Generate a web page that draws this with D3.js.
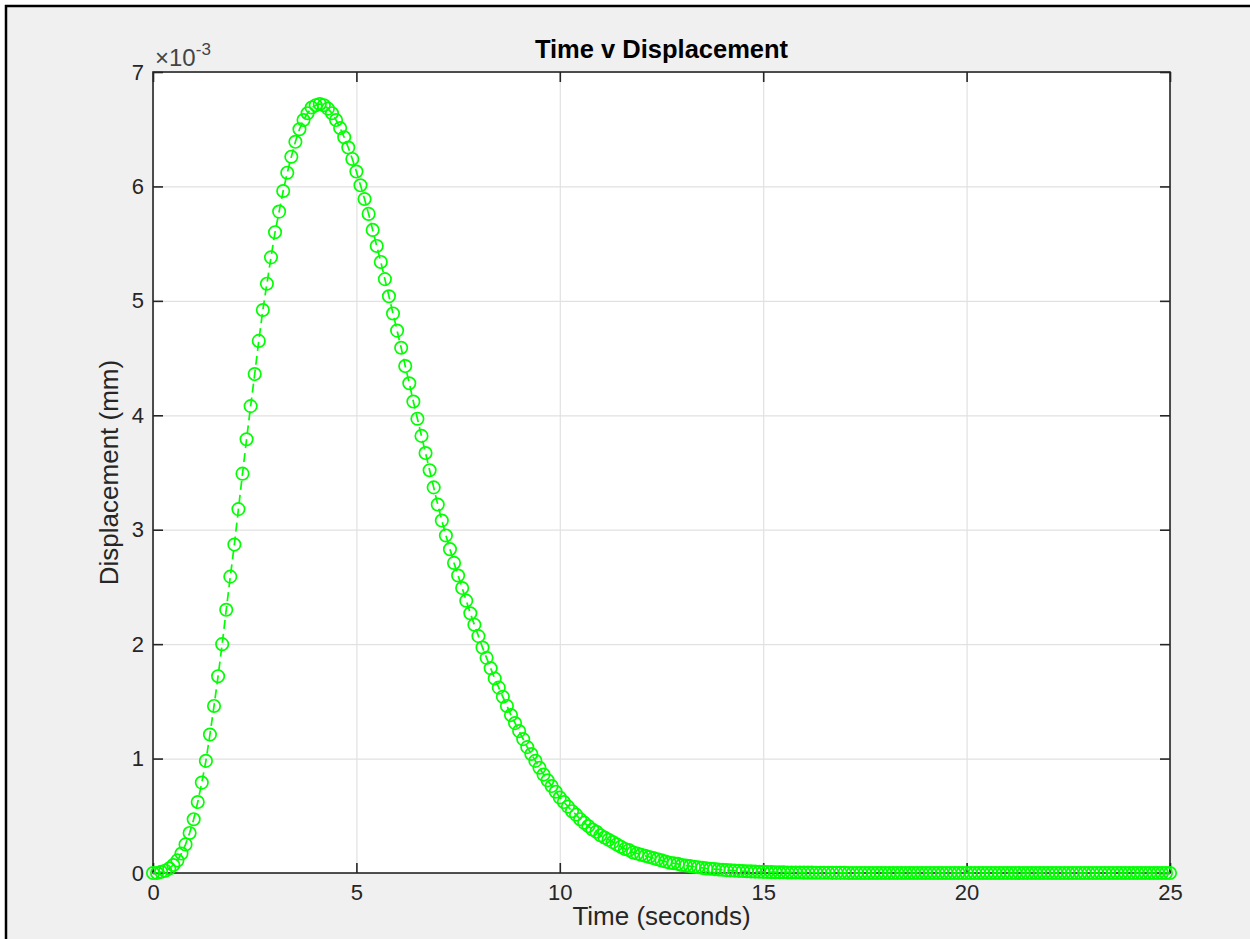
<!DOCTYPE html>
<html>
<head>
<meta charset="utf-8">
<script src="https://cdn.jsdelivr.net/npm/d3@7"></script>
<style>
  body { margin: 0; background: #ffffff; }
  svg { display: block; font-family: "Liberation Sans", Arial, Helvetica, sans-serif; }
</style>
</head>
<body>
<div id="ChartContainer"></div>
<script>
// sample times (seconds)
const TimeValues =
[
    0.0, 0.1, 0.2, 0.3, 0.4, 0.5, 0.6, 0.7, 0.8, 0.9,
    1.0, 1.1, 1.2, 1.3, 1.4, 1.5, 1.6, 1.7, 1.8, 1.9,
    2.0, 2.1, 2.2, 2.3, 2.4, 2.5, 2.6, 2.7, 2.8, 2.9,
    3.0, 3.1, 3.2, 3.3, 3.4, 3.5, 3.6, 3.7, 3.8, 3.9,
    4.0, 4.1, 4.2, 4.3, 4.4, 4.5, 4.6, 4.7, 4.8, 4.9,
    5.0, 5.1, 5.2, 5.3, 5.4, 5.5, 5.6, 5.7, 5.8, 5.9,
    6.0, 6.1, 6.2, 6.3, 6.4, 6.5, 6.6, 6.7, 6.8, 6.9,
    7.0, 7.1, 7.2, 7.3, 7.4, 7.5, 7.6, 7.7, 7.8, 7.9,
    8.0, 8.1, 8.2, 8.3, 8.4, 8.5, 8.6, 8.7, 8.8, 8.9,
    9.0, 9.1, 9.2, 9.3, 9.4, 9.5, 9.6, 9.7, 9.8, 9.9,
    10.0, 10.1, 10.2, 10.3, 10.4, 10.5, 10.6, 10.7, 10.8, 10.9,
    11.0, 11.1, 11.2, 11.3, 11.4, 11.5, 11.6, 11.7, 11.8, 11.9,
    12.0, 12.1, 12.2, 12.3, 12.4, 12.5, 12.6, 12.7, 12.8, 12.9,
    13.0, 13.1, 13.2, 13.3, 13.4, 13.5, 13.6, 13.7, 13.8, 13.9,
    14.0, 14.1, 14.2, 14.3, 14.4, 14.5, 14.6, 14.7, 14.8, 14.9,
    15.0, 15.1, 15.2, 15.3, 15.4, 15.5, 15.6, 15.7, 15.8, 15.9,
    16.0, 16.1, 16.2, 16.3, 16.4, 16.5, 16.6, 16.7, 16.8, 16.9,
    17.0, 17.1, 17.2, 17.3, 17.4, 17.5, 17.6, 17.7, 17.8, 17.9,
    18.0, 18.1, 18.2, 18.3, 18.4, 18.5, 18.6, 18.7, 18.8, 18.9,
    19.0, 19.1, 19.2, 19.3, 19.4, 19.5, 19.6, 19.7, 19.8, 19.9,
    20.0, 20.1, 20.2, 20.3, 20.4, 20.5, 20.6, 20.7, 20.8, 20.9,
    21.0, 21.1, 21.2, 21.3, 21.4, 21.5, 21.6, 21.7, 21.8, 21.9,
    22.0, 22.1, 22.2, 22.3, 22.4, 22.5, 22.6, 22.7, 22.8, 22.9,
    23.0, 23.1, 23.2, 23.3, 23.4, 23.5, 23.6, 23.7, 23.8, 23.9,
    24.0, 24.1, 24.2, 24.3, 24.4, 24.5, 24.6, 24.7, 24.8, 24.9,
    25.0
];

// displacement, in units of 1e-3 mm
const DisplacementValues =
[
    0.00, 0.00, 0.01, 0.02, 0.04, 0.07, 0.11, 0.17, 0.25, 0.35,
    0.47, 0.62, 0.79, 0.98, 1.21, 1.46, 1.72, 2.00, 2.30, 2.59,
    2.87, 3.18, 3.49, 3.79, 4.08, 4.36, 4.65, 4.92, 5.15, 5.38,
    5.60, 5.78, 5.96, 6.12, 6.26, 6.39, 6.50, 6.58, 6.64, 6.69,
    6.71, 6.72, 6.71, 6.68, 6.64, 6.58, 6.51, 6.43, 6.34, 6.24,
    6.13, 6.01, 5.89, 5.76, 5.62, 5.48, 5.34, 5.19, 5.04, 4.89,
    4.74, 4.59, 4.43, 4.28, 4.12, 3.97, 3.82, 3.67, 3.52, 3.37,
    3.22, 3.08, 2.95, 2.83, 2.71, 2.60, 2.49, 2.38, 2.27, 2.17,
    2.07, 1.97, 1.88, 1.79, 1.70, 1.62, 1.54, 1.46, 1.38, 1.31,
    1.24, 1.17, 1.10, 1.04, 0.98, 0.92, 0.86, 0.81, 0.76, 0.71,
    0.66, 0.62, 0.58, 0.54, 0.51, 0.47, 0.44, 0.41, 0.38, 0.36,
    0.33, 0.31, 0.29, 0.27, 0.25, 0.23, 0.21, 0.20, 0.18, 0.17,
    0.16, 0.15, 0.14, 0.13, 0.12, 0.11, 0.10, 0.09, 0.085, 0.08,
    0.07, 0.065, 0.06, 0.055, 0.05, 0.045, 0.04, 0.037, 0.034, 0.031,
    0.028, 0.025, 0.023, 0.021, 0.019, 0.017, 0.015, 0.014, 0.012, 0.011,
    0.010, 0.009, 0.008, 0.007, 0.006, 0.006, 0.005, 0.005, 0.004, 0.004,
    0.003, 0.003, 0.003, 0.002, 0.002, 0.002, 0.002, 0.001, 0.001, 0.001,
    0.001, 0, 0, 0, 0, 0, 0, 0, 0, 0,
    0, 0, 0, 0, 0, 0, 0, 0, 0, 0,
    0, 0, 0, 0, 0, 0, 0, 0, 0, 0,
    0, 0, 0, 0, 0, 0, 0, 0, 0, 0,
    0, 0, 0, 0, 0, 0, 0, 0, 0, 0,
    0, 0, 0, 0, 0, 0, 0, 0, 0, 0,
    0, 0, 0, 0, 0, 0, 0, 0, 0, 0,
    0, 0, 0, 0, 0, 0, 0, 0, 0, 0,
    0
];

const XTicks = [0, 5, 10, 15, 20, 25];
const YTicks = [0, 1, 2, 3, 4, 5, 6, 7];
const XDomain = [0, 25];
const YDomain = [0, 7];

const ChartTitle = 'Time v Displacement';
const XLabel = 'Time (seconds)';
const YLabel = 'Displacement (mm)';

DrawChart();

function DrawChart()
{
    const Width = 1250;
    const Height = 939;
    const Margin = { top: 72, right: 80, bottom: 66, left: 153 };
    const PlotWidth = Width - Margin.left - Margin.right;
    const PlotHeight = Height - Margin.top - Margin.bottom;
    const AxisColor = '#262626';
    const LineColor = '#00ff00';

    const Root = d3.select('#ChartContainer')
                   .append('svg')
                   .attr('width', Width)
                   .attr('height', Height);

    // figure background with the dark frame on top/left
    Root.append('rect')
        .attr('x', 6)
        .attr('y', 6)
        .attr('width', Width + 20)
        .attr('height', Height + 20)
        .attr('fill', '#f0f0f0')
        .attr('stroke', '#000000')
        .attr('stroke-width', 2.5);

    const Svg = Root.append('g')
                    .attr('transform', `translate(${Margin.left}, ${Margin.top})`);

    Svg.append('rect')
       .attr('width', PlotWidth)
       .attr('height', PlotHeight)
       .attr('fill', '#ffffff');

    const xScale = d3.scaleLinear().domain(XDomain).range([0, PlotWidth]);
    const yScale = d3.scaleLinear().domain(YDomain).range([PlotHeight, 0]);

    // grid
    const Grid = Svg.append('g').attr('class', 'grid');
    Grid.append('g')
        .attr('transform', `translate(0, ${PlotHeight})`)
        .call(d3.axisBottom(xScale).tickValues(XTicks).tickSize(-PlotHeight).tickFormat(''));
    Grid.append('g')
        .call(d3.axisLeft(yScale).tickValues(YTicks).tickSize(-PlotWidth).tickFormat(''));
    Grid.selectAll('.domain').remove();
    Grid.selectAll('line').attr('stroke', '#e1e1e1').attr('stroke-width', 1.2);

    // axes with inward ticks on all four sides
    const TickFont = '22px';
    const Bottom = Svg.append('g')
                      .attr('transform', `translate(0, ${PlotHeight})`)
                      .call(d3.axisBottom(xScale).tickValues(XTicks).tickSize(-10).tickPadding(11).tickFormat(d3.format('d')));
    const Top = Svg.append('g')
                   .call(d3.axisTop(xScale).tickValues(XTicks).tickSize(-10).tickFormat(''));
    const Left = Svg.append('g')
                    .call(d3.axisLeft(yScale).tickValues(YTicks).tickSize(-10).tickPadding(9).tickFormat(d3.format('d')));
    const Right = Svg.append('g')
                     .attr('transform', `translate(${PlotWidth}, 0)`)
                     .call(d3.axisRight(yScale).tickValues(YTicks).tickSize(-10).tickFormat(''));
    [Bottom, Top, Left, Right].forEach(Axis =>
    {
        Axis.select('.domain').remove();
        Axis.selectAll('line').attr('stroke', AxisColor).attr('stroke-width', 1.6);
        Axis.selectAll('text')
            .attr('fill', AxisColor)
            .style('font-size', TickFont)
            .style('font-family', '"Liberation Sans", Arial, sans-serif');
    });

    Svg.append('rect')
       .attr('width', PlotWidth)
       .attr('height', PlotHeight)
       .attr('fill', 'none')
       .attr('stroke', AxisColor)
       .attr('stroke-width', 1.6);

    // exponent label
    const Exponent = Svg.append('text')
                        .attr('x', 2)
                        .attr('y', -6)
                        .attr('fill', '#444444')
                        .style('font-size', '24px');
    Exponent.append('tspan').text('\u00d710');
    Exponent.append('tspan')
            .attr('dy', -11)
            .style('font-size', '17px')
            .text('-3');

    // data: dashed line + circle markers
    const Points = TimeValues.map((t, i) => ({ t: t, v: DisplacementValues[i] }));
    const LineGen = d3.line()
                      .x(d => xScale(d.t))
                      .y(d => yScale(d.v));
    Svg.append('path')
       .datum(Points)
       .attr('d', LineGen)
       .attr('fill', 'none')
       .attr('stroke', LineColor)
       .attr('stroke-width', 1.7)
       .attr('stroke-dasharray', '9,5');
    Svg.append('g')
       .selectAll('circle')
       .data(Points)
       .enter()
       .append('circle')
       .attr('cx', d => xScale(d.t))
       .attr('cy', d => yScale(d.v))
       .attr('r', 6.2)
       .attr('fill', 'none')
       .attr('stroke', LineColor)
       .attr('stroke-width', 1.7);

    // title and labels
    Svg.append('text')
       .attr('x', PlotWidth / 2)
       .attr('y', -14)
       .attr('text-anchor', 'middle')
       .attr('fill', '#000000')
       .style('font-size', '25.5px')
       .style('font-weight', 'bold')
       .text(ChartTitle);
    Svg.append('text')
       .attr('x', PlotWidth / 2)
       .attr('y', PlotHeight + 52)
       .attr('text-anchor', 'middle')
       .attr('fill', AxisColor)
       .style('font-size', '26px')
       .text(XLabel);
    Svg.append('text')
       .attr('transform', `translate(${-35}, ${PlotHeight / 2}) rotate(-90)`)
       .attr('text-anchor', 'middle')
       .attr('fill', AxisColor)
       .style('font-size', '26px')
       .text(YLabel);
}
</script>
</body>
</html>
